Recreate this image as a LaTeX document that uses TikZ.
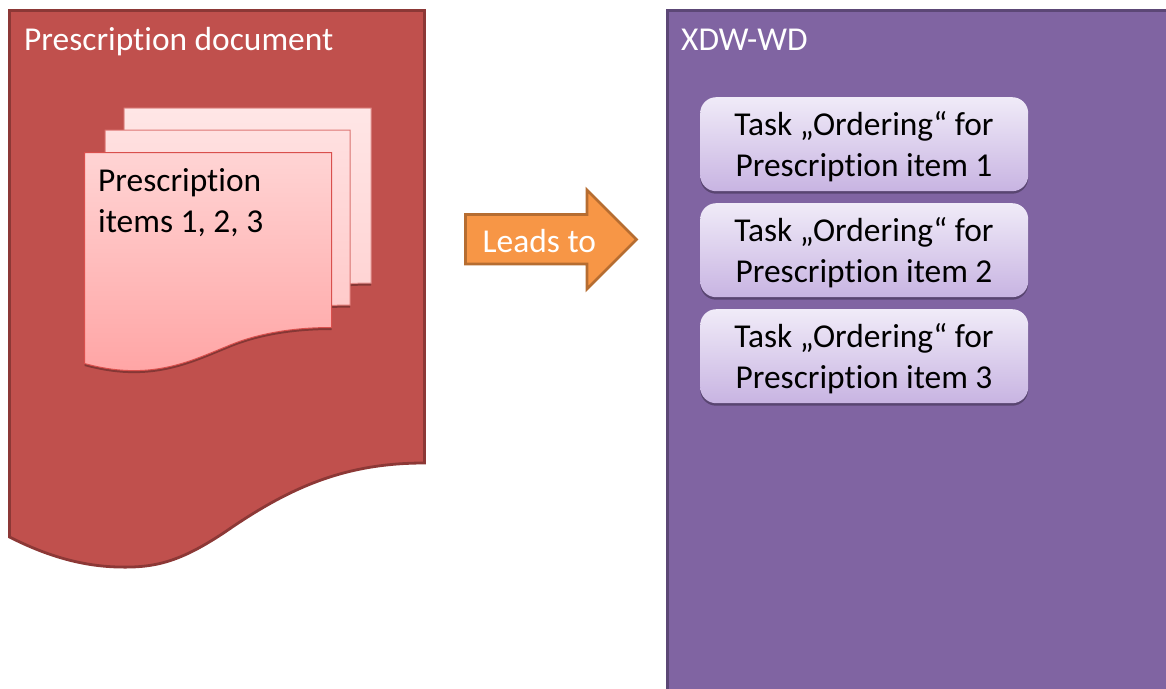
\documentclass[tikz,border=0pt]{standalone}
\usepackage{fontspec}
\setmainfont{Carlito}[Ligatures=NoCommon]
\usetikzlibrary{shadows}
\definecolor{redfill}{HTML}{C0504D}
\definecolor{redline}{HTML}{8C3836}
\definecolor{purplefill}{HTML}{8064A2}
\definecolor{purpleline}{HTML}{5C4776}
\definecolor{orangefill}{HTML}{F79646}
\definecolor{orangeline}{HTML}{B66D31}
\definecolor{purple1}{HTML}{F0EBF8}
\definecolor{purple2}{HTML}{C8B4E2}
\definecolor{sa1}{HTML}{FFE6E6}
\definecolor{sa2}{HTML}{FFCFCF}
\definecolor{sal}{HTML}{E08A88}
\definecolor{sb1}{HTML}{FFE0E0}
\definecolor{sb2}{HTML}{FFC4C4}
\definecolor{sbl}{HTML}{DD7673}
\definecolor{sc1}{HTML}{FFD4D4}
\definecolor{sc2}{HTML}{FFA3A3}
\definecolor{scl}{HTML}{D9504D}
\tikzset{
  lbl/.style={inner sep=0pt,anchor=base west,align=left,font=\fontsize{33.4}{40.5}\selectfont},
  softshadow/.style={drop shadow={shadow xshift=0pt,shadow yshift=-2.5pt,fill=black,opacity=.3}},
  sheetback/.style={draw=#1,line width=1pt,softshadow},
  taskbox/.style={draw=none,rounded corners=16pt,top color=purple1,bottom color=purple2,
     minimum width=328pt,minimum height=94pt,inner sep=0pt,anchor=north west,softshadow},
  tasktext/.style={inner sep=0pt,anchor=base,align=center,font=\fontsize{33.4}{40.5}\selectfont},
}
\newcommand{\wavesheet}[5]{%
  \begin{scope}[shift={(#1)}]
  \path[sheetback=#4,top color=#2,bottom color=#3]
   (0,0) -- (#5,0) -- (#5,175)
   .. controls (199,175) and (165,184) .. (142,194)
   .. controls (105,209) and (65,229) .. (0,211) -- cycle;
  \end{scope}}
\begin{document}
\begin{tikzpicture}[x=1pt,y=-1pt]
\useasboundingbox (0,0) rectangle (1166,688);
% prescription document
\path[draw=redline,line width=2.8pt,fill=redfill]
  (9.5,10.5) -- (424.5,10.5) -- (424.5,463)
  .. controls (345,463) and (290,487) .. (225,532)
  .. controls (180,562) and (155,568) .. (118,567)
  .. controls (80,566) and (45,555) .. (9.5,537) -- cycle;
\node[lbl,text=white] (doctitle) at (24,50) {Prescription document};
% sheets
\coordinate (s1) at (124,108);
\coordinate (s2) at (105,130);
\coordinate (s3) at (84.5,152.5);
\wavesheet{s1}{sa1}{sa2}{sal}{247}
\wavesheet{s2}{sb1}{sb2}{sbl}{245}
\wavesheet{s3}{sc1}{sc2}{scl}{247}
\node[lbl,text=black] (items) at (98,232) {Prescription\\items 1, 2, 3};
% arrow
\path[draw=orangeline,line width=2.8pt,fill=orangefill,line join=miter]
  (465.5,214.5) -- (587,214.5) -- (587,190) -- (636.5,239.5) -- (587,289) -- (587,264) -- (465.5,264) -- cycle;
\node[lbl,text=white] (leads) at (482.5,252) {Leads to};
% XDW-WD
\path[draw=purpleline,line width=2.8pt,fill=purplefill]
  (667.5,10.5) -- (1175,10.5) -- (1175,700) -- (667.5,700) -- cycle;
\node[lbl,text=white] (wdtitle) at (681,50) {XDW-WD};
% tasks
\node[taskbox] (t1) at (700,97) {};
\node[taskbox] (t2) at (700,203) {};
\node[taskbox] (t3) at (700,309) {};
\node[tasktext] (l1) at (864,176) {Task „Ordering“ for\\Prescription item 1};
\node[tasktext] (l2) at (864,282) {Task „Ordering“ for\\Prescription item 2};
\node[tasktext] (l3) at (864,388) {Task „Ordering“ for\\Prescription item 3};
\end{tikzpicture}
\end{document}
